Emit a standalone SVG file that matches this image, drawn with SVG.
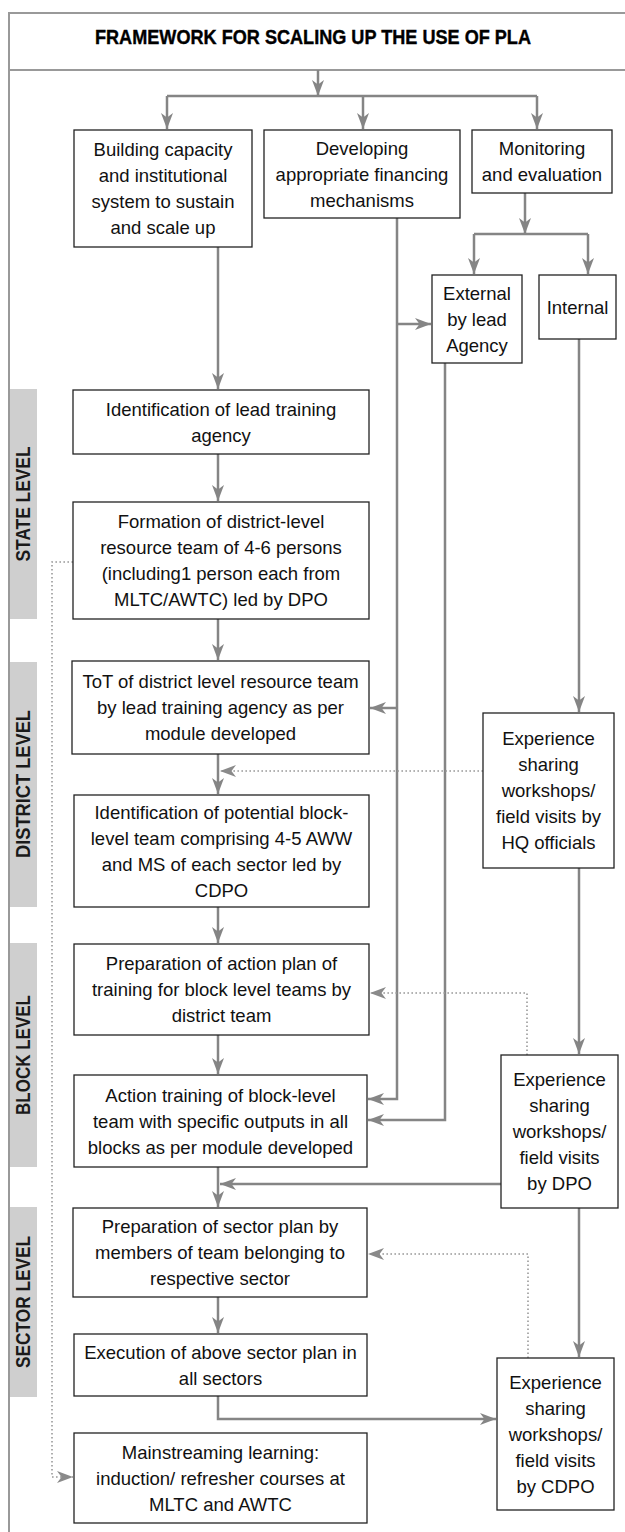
<svg xmlns="http://www.w3.org/2000/svg" width="625" height="1532" viewBox="0 0 625 1532">
<style>
.frame{stroke:#999;stroke-width:2;fill:none}
.band{fill:#cfcfcf}
.lvl{font-family:"Liberation Sans",Arial,sans-serif;font-weight:bold;font-size:20px;fill:#1a1a1a;text-anchor:middle}
.title{font-family:"Liberation Sans",Arial,sans-serif;font-weight:bold;font-size:21px;fill:#000;stroke:#000;stroke-width:0.4;text-anchor:middle}
.box{fill:#fff;stroke:#222;stroke-width:1.3}
.t{font-family:"Liberation Sans",Arial,sans-serif;font-size:18.5px;fill:#111;text-anchor:middle}
.c{fill:none;stroke:#858585;stroke-width:2.5}
.d{fill:none;stroke:#999;stroke-width:1.6;stroke-dasharray:1.6 2.4}
</style>
<defs>
<marker id="ah" markerUnits="userSpaceOnUse" viewBox="0 0 16 12" refX="16" refY="6" markerWidth="16" markerHeight="12" orient="auto">
<path d="M0,0 L16,6 L0,12 L4.5,6 Z" fill="#858585"/>
</marker>
<marker id="ahd" markerUnits="userSpaceOnUse" viewBox="0 0 16 12" refX="16" refY="6" markerWidth="16" markerHeight="12" orient="auto">
<path d="M0,0 L16,6 L0,12 L4.5,6 Z" fill="#8a8a8a"/>
</marker>
</defs>
<rect width="625" height="1532" fill="#fff"/>
<g id="frame">
<path class="frame" d="M625,13 H9 V1532"/>
<path class="frame" d="M9,70 H625"/>
</g>
<g id="title">
<text class="title" x="313" y="44" textLength="436" lengthAdjust="spacingAndGlyphs">FRAMEWORK FOR SCALING UP THE USE OF PLA</text>
</g>
<g id="levels">
<rect class="band" x="10" y="389" width="27" height="230"/>
<text class="lvl" transform="translate(30,504) rotate(-90)" textLength="115" lengthAdjust="spacingAndGlyphs">STATE LEVEL</text>
<rect class="band" x="10" y="662" width="27" height="245"/>
<text class="lvl" transform="translate(30,784) rotate(-90)" textLength="148" lengthAdjust="spacingAndGlyphs">DISTRICT LEVEL</text>
<rect class="band" x="10" y="943" width="27" height="224"/>
<text class="lvl" transform="translate(30,1055) rotate(-90)" textLength="120" lengthAdjust="spacingAndGlyphs">BLOCK LEVEL</text>
<rect class="band" x="10" y="1207" width="27" height="190"/>
<text class="lvl" transform="translate(30,1302) rotate(-90)" textLength="132" lengthAdjust="spacingAndGlyphs">SECTOR LEVEL</text>
</g>
<g id="connectors">
<path class="c" d="M318,70 V96" marker-end="url(#ah)"/>
<path class="c" d="M167,96 H537"/>
<path class="c" d="M167,96 V129" marker-end="url(#ah)"/>
<path class="c" d="M363,96 V129" marker-end="url(#ah)"/>
<path class="c" d="M537,96 V129" marker-end="url(#ah)"/>
<path class="c" d="M525,193 V234" marker-end="url(#ah)"/>
<path class="c" d="M474,234 H588"/>
<path class="c" d="M474,234 V274" marker-end="url(#ah)"/>
<path class="c" d="M588,234 V274" marker-end="url(#ah)"/>
<path class="c" d="M218,247 V389" marker-end="url(#ah)"/>
<path class="c" d="M218,454 V501" marker-end="url(#ah)"/>
<path class="c" d="M218,619 V660" marker-end="url(#ah)"/>
<path class="c" d="M218,754 V794" marker-end="url(#ah)"/>
<path class="c" d="M218,907 V943" marker-end="url(#ah)"/>
<path class="c" d="M218,1035 V1074" marker-end="url(#ah)"/>
<path class="c" d="M218,1167 V1207" marker-end="url(#ah)"/>
<path class="c" d="M218,1297 V1333" marker-end="url(#ah)"/>
<path class="c" d="M218,1396 V1419 H496" marker-end="url(#ah)"/>
<path class="c" d="M397,218 V1099 H368" marker-end="url(#ah)"/>
<path class="c" d="M397,324 H431" marker-end="url(#ah)"/>
<path class="c" d="M397,708 H370" marker-end="url(#ah)"/>
<path class="c" d="M445,363 V1120 H368" marker-end="url(#ah)"/>
<path class="c" d="M579,339 V712" marker-end="url(#ah)"/>
<path class="c" d="M579,868 V1054" marker-end="url(#ah)"/>
<path class="c" d="M579,1208 V1357" marker-end="url(#ah)"/>
<path class="c" d="M501,1184 H220" marker-end="url(#ah)"/>
<path class="d" d="M483,771 H220" marker-end="url(#ahd)"/>
<path class="d" d="M527,1055 V993 H370" marker-end="url(#ahd)"/>
<path class="d" d="M528,1358 V1254 H368" marker-end="url(#ahd)"/>
<path class="d" d="M73,562 H52 V1477 H73" marker-end="url(#ahd)"/>
</g>
<g id="n-building">
<rect class="box" x="74" y="130" width="178" height="117"/>
<text class="t" x="163" y="156">Building capacity<tspan x="163" dy="26">and institutional</tspan><tspan x="163" dy="26">system to sustain</tspan><tspan x="163" dy="26">and scale up</tspan></text>
</g>
<g id="n-financing">
<rect class="box" x="264" y="130" width="196" height="88"/>
<text class="t" x="362" y="154.5">Developing<tspan x="362" dy="26">appropriate financing</tspan><tspan x="362" dy="26">mechanisms</tspan></text>
</g>
<g id="n-monitoring">
<rect class="box" x="472" y="130" width="140" height="63"/>
<text class="t" x="542" y="155">Monitoring<tspan x="542" dy="26">and evaluation</tspan></text>
</g>
<g id="n-external">
<rect class="box" x="432" y="275" width="90" height="88"/>
<text class="t" x="477" y="299.5">External<tspan x="477" dy="26">by lead</tspan><tspan x="477" dy="26">Agency</tspan></text>
</g>
<g id="n-internal">
<rect class="box" x="539" y="275" width="77" height="64"/>
<text class="t" x="577.5" y="313.5">Internal</text>
</g>
<g id="n-idlead">
<rect class="box" x="73" y="390" width="296" height="64"/>
<text class="t" x="221" y="415.5">Identification of lead training<tspan x="221" dy="26">agency</tspan></text>
</g>
<g id="n-formation">
<rect class="box" x="73" y="502" width="296" height="117"/>
<text class="t" x="221" y="528">Formation of district-level<tspan x="221" dy="26">resource team of 4-6 persons</tspan><tspan x="221" dy="26">(including1 person each from</tspan><tspan x="221" dy="26">MLTC/AWTC) led by DPO</tspan></text>
</g>
<g id="n-tot">
<rect class="box" x="72" y="661" width="297" height="93"/>
<text class="t" x="220.5" y="688">ToT of district level resource team<tspan x="220.5" dy="26">by lead training agency as per</tspan><tspan x="220.5" dy="26">module developed</tspan></text>
</g>
<g id="n-idpotential">
<rect class="box" x="74" y="795" width="295" height="112"/>
<text class="t" x="221.5" y="818.5">Identification of potential block-<tspan x="221.5" dy="26">level team comprising 4-5 AWW</tspan><tspan x="221.5" dy="26">and MS of each sector led by</tspan><tspan x="221.5" dy="26">CDPO</tspan></text>
</g>
<g id="n-actionplan">
<rect class="box" x="74" y="944" width="295" height="91"/>
<text class="t" x="221.5" y="970">Preparation of action plan of<tspan x="221.5" dy="26">training for block level teams by</tspan><tspan x="221.5" dy="26">district team</tspan></text>
</g>
<g id="n-actiontraining">
<rect class="box" x="74" y="1075" width="293" height="92"/>
<text class="t" x="220.5" y="1101.5">Action training of block-level<tspan x="220.5" dy="26">team with specific outputs in all</tspan><tspan x="220.5" dy="26">blocks as per module developed</tspan></text>
</g>
<g id="n-sectorplan">
<rect class="box" x="73" y="1208" width="294" height="89"/>
<text class="t" x="220" y="1233">Preparation of sector plan by<tspan x="220" dy="26">members of team belonging to</tspan><tspan x="220" dy="26">respective sector</tspan></text>
</g>
<g id="n-execution">
<rect class="box" x="74" y="1334" width="293" height="62"/>
<text class="t" x="220.5" y="1358.5">Execution of above sector plan in<tspan x="220.5" dy="26">all sectors</tspan></text>
</g>
<g id="n-mainstreaming">
<rect class="box" x="74" y="1433" width="293" height="90"/>
<text class="t" x="220.5" y="1458.5">Mainstreaming learning:<tspan x="220.5" dy="26">induction/ refresher courses at</tspan><tspan x="220.5" dy="26">MLTC and AWTC</tspan></text>
</g>
<g id="n-exp-hq">
<rect class="box" x="483" y="713" width="131" height="155"/>
<text class="t" x="548.5" y="745">Experience<tspan x="548.5" dy="26">sharing</tspan><tspan x="548.5" dy="26">workshops/</tspan><tspan x="548.5" dy="26">field visits by</tspan><tspan x="548.5" dy="26">HQ officials</tspan></text>
</g>
<g id="n-exp-dpo">
<rect class="box" x="501" y="1055" width="117" height="153"/>
<text class="t" x="559.5" y="1086">Experience<tspan x="559.5" dy="26">sharing</tspan><tspan x="559.5" dy="26">workshops/</tspan><tspan x="559.5" dy="26">field visits</tspan><tspan x="559.5" dy="26">by DPO</tspan></text>
</g>
<g id="n-exp-cdpo">
<rect class="box" x="497" y="1358" width="117" height="152"/>
<text class="t" x="555.5" y="1388.5">Experience<tspan x="555.5" dy="26">sharing</tspan><tspan x="555.5" dy="26">workshops/</tspan><tspan x="555.5" dy="26">field visits</tspan><tspan x="555.5" dy="26">by CDPO</tspan></text>
</g>
</svg>
